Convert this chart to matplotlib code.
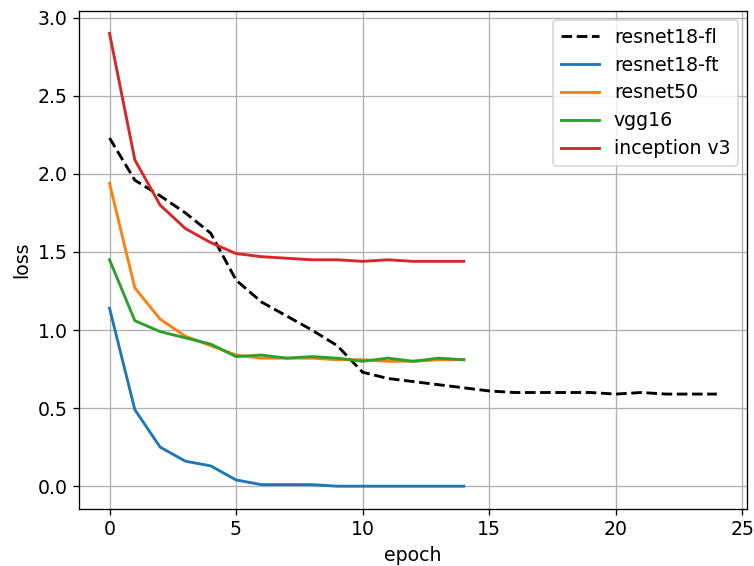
import matplotlib
matplotlib.use("Agg")
import matplotlib.pyplot as plt

# loss per epoch
epochs_fl = list(range(25))
epochs = list(range(15))

resnet18_fl = [2.23, 1.96, 1.86, 1.75, 1.62, 1.32, 1.18, 1.09, 1.00, 0.90,
               0.73, 0.69, 0.67, 0.65, 0.63, 0.61, 0.60, 0.60, 0.60, 0.60,
               0.59, 0.60, 0.59, 0.59, 0.59]
resnet18_ft = [1.14, 0.49, 0.25, 0.16, 0.13, 0.04, 0.01, 0.01, 0.01, 0.0,
               0.0, 0.0, 0.0, 0.0, 0.0]
resnet50 = [1.94, 1.27, 1.07, 0.96, 0.90, 0.84, 0.82, 0.82, 0.82, 0.81,
            0.81, 0.80, 0.80, 0.81, 0.81]
vgg16 = [1.45, 1.06, 0.99, 0.95, 0.91, 0.83, 0.84, 0.82, 0.83, 0.82,
         0.80, 0.82, 0.80, 0.82, 0.81]
inception_v3 = [2.90, 2.09, 1.80, 1.65, 1.56, 1.49, 1.47, 1.46, 1.45, 1.45,
                1.44, 1.45, 1.44, 1.44, 1.44]

plt.rcParams["font.size"] = 11.5
plt.rcParams["lines.linewidth"] = 1.75
plt.rcParams["legend.labelspacing"] = 0.47

DPI = 118
fig, ax = plt.subplots(figsize=(754 / DPI, 566 / DPI), dpi=DPI)
fig.subplots_adjust(left=0.105, right=0.991, top=0.981, bottom=0.101)

ax.plot(epochs_fl, resnet18_fl, "k--", label="resnet18-fl")
ax.plot(epochs, resnet18_ft, label="resnet18-ft")
ax.plot(epochs, resnet50, label="resnet50")
ax.plot(epochs, vgg16, label="vgg16")
ax.plot(epochs, inception_v3, label="inception v3")

ax.set_xlabel("epoch")
ax.set_ylabel("loss")
ax.grid(True)
ax.legend(loc="upper right")

fig.savefig("out.png", dpi=DPI)
